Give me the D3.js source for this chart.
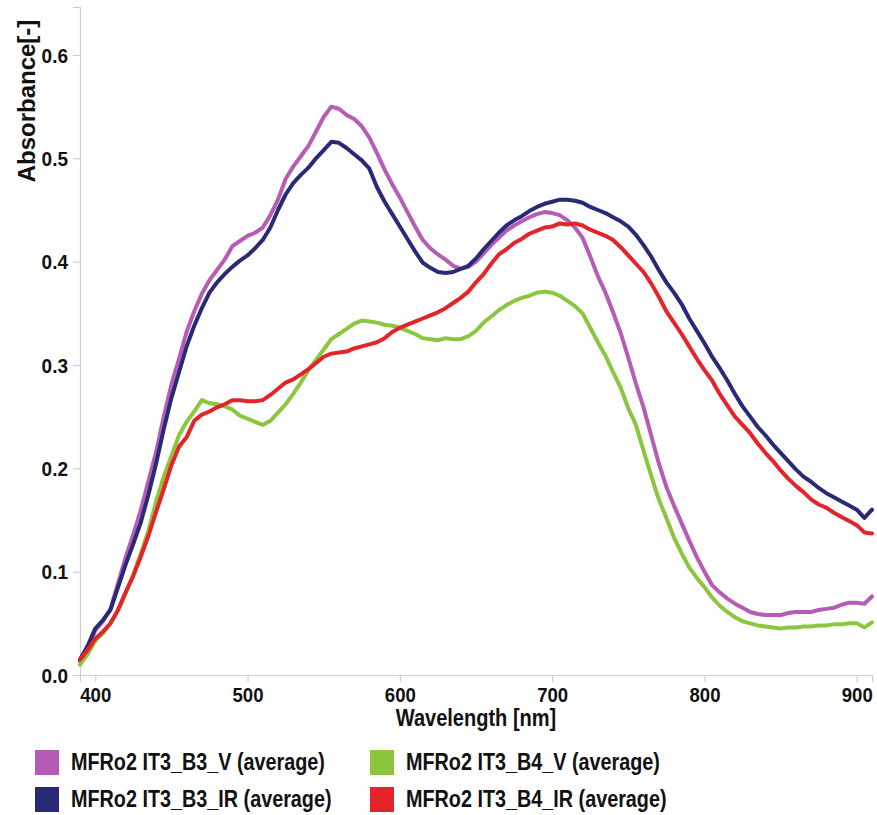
<!DOCTYPE html>
<html>
<head>
<meta charset="utf-8">
<script src="https://cdn.jsdelivr.net/npm/d3@7"></script>
<style>
  html, body { margin: 0; padding: 0; background: #fff; }
  svg text { font-family: "Liberation Sans", Arial, sans-serif; font-weight: bold; fill: #111; }
</style>
</head>
<body>
<svg id="chart"></svg>
<script>
// wavelength grid [nm]
const wavelengths = d3.range(390, 911, 5);

// absorbance values, one per wavelength
const b3V = [
  0.013, 0.025, 0.043, 0.052, 0.064, 0.089, 0.114, 0.136, 0.160, 0.188,
  0.216, 0.250, 0.281, 0.306, 0.332, 0.352, 0.369, 0.382, 0.392, 0.402,
  0.415, 0.420, 0.425, 0.428, 0.433, 0.445, 0.460, 0.480, 0.492, 0.502,
  0.512, 0.526, 0.540, 0.550, 0.548, 0.542, 0.538, 0.531, 0.520, 0.505,
  0.489, 0.475, 0.462, 0.448, 0.434, 0.421, 0.413, 0.407, 0.402, 0.396,
  0.393, 0.395, 0.400, 0.408, 0.416, 0.423, 0.430, 0.435, 0.439, 0.443,
  0.446, 0.448, 0.447, 0.445, 0.440, 0.433, 0.423, 0.405, 0.386, 0.370,
  0.351, 0.331, 0.307, 0.282, 0.259, 0.232, 0.205, 0.182, 0.164, 0.147,
  0.130, 0.114, 0.100, 0.087, 0.080, 0.074, 0.069, 0.065, 0.061, 0.059,
  0.058, 0.058, 0.058, 0.060, 0.061, 0.061, 0.061, 0.063, 0.064, 0.065,
  0.068, 0.070, 0.070, 0.069, 0.076
];
const b3IR = [
  0.015, 0.028, 0.045, 0.053, 0.063, 0.085, 0.107, 0.127, 0.148, 0.175,
  0.205, 0.238, 0.268, 0.293, 0.318, 0.338, 0.355, 0.370, 0.380, 0.388,
  0.395, 0.401, 0.406, 0.413, 0.421, 0.433, 0.450, 0.465, 0.476, 0.484,
  0.491, 0.500, 0.508, 0.516, 0.515, 0.510, 0.504, 0.498, 0.490, 0.472,
  0.458, 0.446, 0.434, 0.422, 0.410, 0.399, 0.394, 0.390, 0.389, 0.390,
  0.393, 0.396, 0.403, 0.412, 0.420, 0.428, 0.435, 0.440, 0.444, 0.449,
  0.453, 0.456, 0.458, 0.460, 0.460, 0.459, 0.457, 0.453, 0.450, 0.447,
  0.443, 0.439, 0.434, 0.426, 0.416, 0.405, 0.392, 0.380, 0.370, 0.359,
  0.345, 0.333, 0.321, 0.308, 0.297, 0.285, 0.272, 0.260, 0.250, 0.240,
  0.232, 0.223, 0.215, 0.207, 0.199, 0.192, 0.187, 0.181, 0.176, 0.172,
  0.168, 0.164, 0.160, 0.152, 0.160
];
const b4V = [
  0.010, 0.020, 0.033, 0.040, 0.050, 0.063, 0.080, 0.097, 0.118, 0.140,
  0.168, 0.192, 0.212, 0.232, 0.245, 0.255, 0.266, 0.263, 0.262, 0.260,
  0.257, 0.251, 0.248, 0.245, 0.242, 0.246, 0.254, 0.262, 0.272, 0.283,
  0.295, 0.305, 0.315, 0.325, 0.330, 0.335, 0.340, 0.343, 0.342, 0.341,
  0.339, 0.338, 0.336, 0.333, 0.330, 0.326, 0.325, 0.324, 0.326, 0.325,
  0.325, 0.328, 0.333, 0.341, 0.347, 0.353, 0.358, 0.362, 0.365, 0.367,
  0.370, 0.371, 0.370, 0.367, 0.362, 0.357, 0.350, 0.336, 0.322, 0.309,
  0.293, 0.278, 0.258, 0.242, 0.217, 0.193, 0.170, 0.152, 0.133, 0.118,
  0.104, 0.094, 0.085, 0.075, 0.067, 0.061, 0.056, 0.052, 0.050, 0.048,
  0.047, 0.046, 0.045, 0.046, 0.046, 0.047, 0.047, 0.048, 0.048, 0.049,
  0.049, 0.050, 0.050, 0.046, 0.051
];
const b4IR = [
  0.015, 0.024, 0.035, 0.042, 0.050, 0.063, 0.080, 0.096, 0.115, 0.135,
  0.158, 0.180, 0.203, 0.221, 0.230, 0.246, 0.252, 0.255, 0.259, 0.262,
  0.266, 0.266, 0.265, 0.265, 0.266, 0.271, 0.277, 0.283, 0.286, 0.291,
  0.296, 0.302, 0.308, 0.311, 0.312, 0.313, 0.316, 0.318, 0.320, 0.322,
  0.326, 0.332, 0.336, 0.339, 0.342, 0.345, 0.348, 0.351, 0.355, 0.360,
  0.365, 0.371, 0.380, 0.388, 0.398, 0.407, 0.412, 0.418, 0.422, 0.427,
  0.430, 0.433, 0.434, 0.437, 0.436, 0.437, 0.435, 0.431, 0.428, 0.425,
  0.421, 0.414, 0.406, 0.398, 0.390, 0.379, 0.366, 0.352, 0.341, 0.330,
  0.318, 0.306, 0.295, 0.285, 0.272, 0.261, 0.250, 0.242, 0.234, 0.224,
  0.215, 0.207, 0.198, 0.190, 0.183, 0.177, 0.170, 0.165, 0.162, 0.157,
  0.153, 0.149, 0.145, 0.138, 0.137
];

const seriesNames = [
  "MFRo2 IT3_B3_V (average)",
  "MFRo2 IT3_B3_IR (average)",
  "MFRo2 IT3_B4_V (average)",
  "MFRo2 IT3_B4_IR (average)"
];
const seriesValues = [b3V, b3IR, b4V, b4IR];
const seriesColors = ["#b65cb6", "#292a76", "#8cc63f", "#e4232a"];
// draw order: back to front
const drawOrder = [0, 1, 2, 3];

const yTicks = [0, 0.1, 0.2, 0.3, 0.4, 0.5, 0.6];
const xTicks = [400, 500, 600, 700, 800, 900];

const W = 877, H = 815;
const svg = d3.select("#chart").attr("width", W).attr("height", H);

const x = d3.scaleLinear().domain([390, 910]).range([80, 872]);
const y = d3.scaleLinear().domain([0, 0.6]).range([675, 55]);
const yTop = 0.6465;

// squeeze text horizontally like the reference
function squeeze(sel, k) {
  sel.each(function () {
    const w = this.getComputedTextLength();
    d3.select(this).attr("textLength", w * k).attr("lengthAdjust", "spacingAndGlyphs");
  });
}

// axes
const yAxis = svg.append("g")
  .attr("transform", "translate(80,0)")
  .call(d3.axisLeft(y.copy().domain([0, yTop]).range([675, y(yTop)]))
    .tickValues(yTicks).tickFormat(d3.format(".1f")).tickSize(7).tickPadding(5));
const xAxis = svg.append("g")
  .attr("transform", "translate(0,675)")
  .call(d3.axisBottom(x).tickValues(xTicks).tickFormat(d3.format("d")).tickSize(7).tickPadding(6));

[yAxis, xAxis].forEach(g => {
  g.select(".domain").attr("stroke", "#cfcfcf").attr("stroke-width", 1.2);
  g.selectAll(".tick line").attr("stroke", "#cfcfcf").attr("stroke-width", 1.2);
  g.selectAll(".tick text").attr("font-size", 20).attr("fill", "#111");
});
yAxis.selectAll(".tick text").attr("dy", "0.36em");
xAxis.selectAll(".tick text").attr("dy", "0.72em");
squeeze(yAxis.selectAll(".tick text"), 0.95);
squeeze(xAxis.selectAll(".tick text"), 0.93);

// curves
const line = d3.line()
  .x((d, i) => x(wavelengths[i]))
  .y(d => y(d));

svg.append("g")
  .selectAll("path")
  .data(drawOrder)
  .join("path")
  .attr("d", i => line(seriesValues[i]))
  .attr("fill", "none")
  .attr("stroke", i => seriesColors[i])
  .attr("stroke-width", 4)
  .attr("stroke-linejoin", "round")
  .attr("stroke-linecap", "round");

// axis titles
const xt = svg.append("text")
  .attr("x", 476).attr("y", 726)
  .attr("text-anchor", "middle")
  .attr("font-size", 23)
  .text("Wavelength [nm]");
squeeze(xt, 0.87);

svg.append("text")
  .attr("transform", "translate(35,101) rotate(-90)")
  .attr("text-anchor", "middle")
  .attr("font-size", 24)
  .text("Absorbance[-]");

// legend, two columns
const legendPos = [
  { sx: 35, sy: 750 },
  { sx: 35, sy: 787 },
  { sx: 370, sy: 750 },
  { sx: 370, sy: 787 }
];
const legend = svg.append("g")
  .selectAll("g")
  .data(seriesNames)
  .join("g")
  .attr("transform", (d, i) => `translate(${legendPos[i].sx},${legendPos[i].sy})`);
legend.append("rect")
  .attr("width", 24).attr("height", 25)
  .attr("fill", (d, i) => seriesColors[i]);
const lt = legend.append("text")
  .attr("x", 36).attr("y", 20)
  .attr("font-size", 23)
  .text(d => d);
squeeze(lt, 0.86);
</script>
</body>
</html>
